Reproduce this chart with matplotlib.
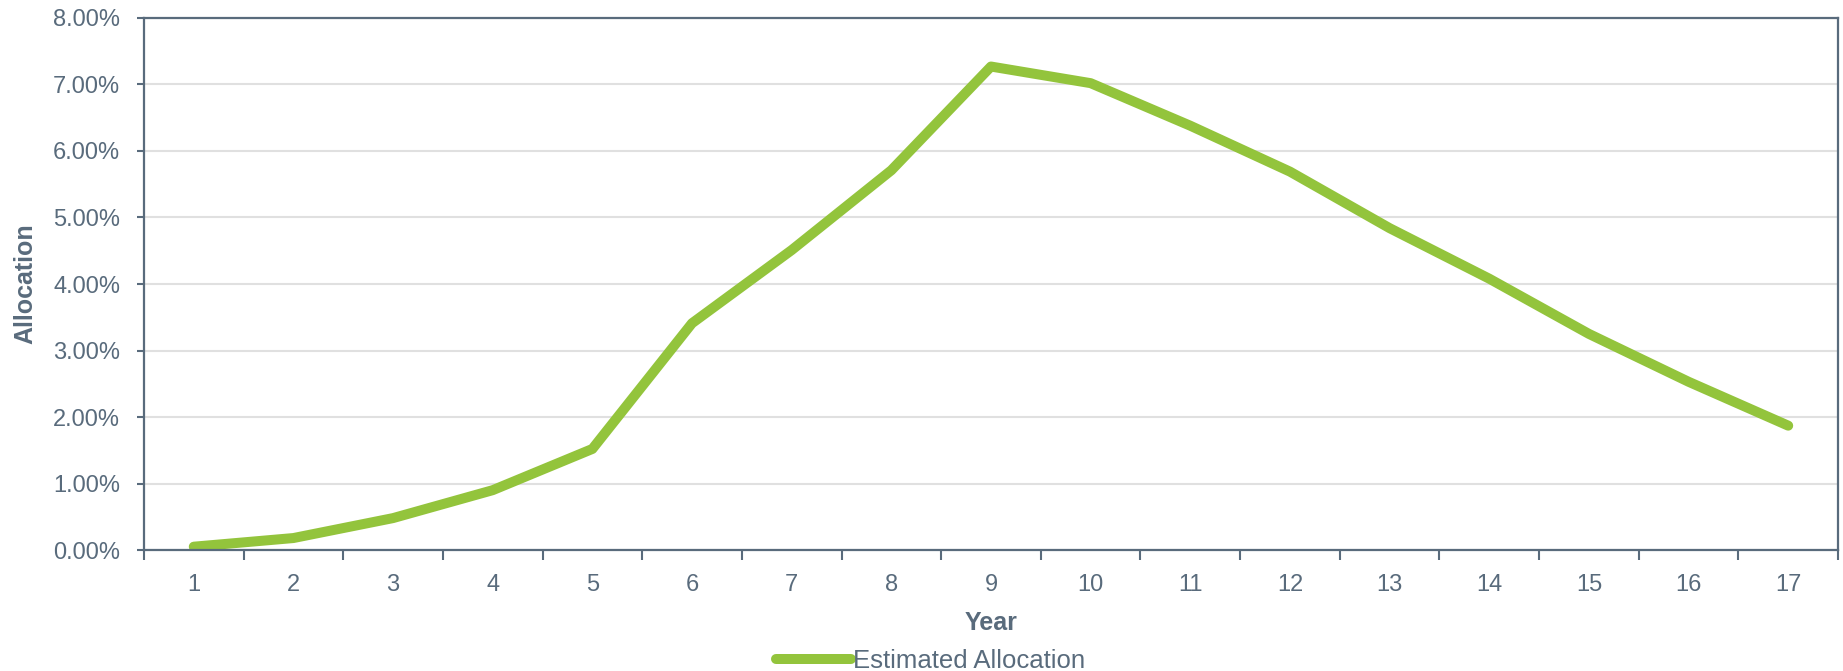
import matplotlib.pyplot as plt
from matplotlib.ticker import FuncFormatter, FixedLocator

# Data
years = list(range(1, 18))
allocation = [0.05, 0.18, 0.48, 0.90, 1.52, 3.41, 4.51, 5.71, 7.27,
              7.02, 6.38, 5.69, 4.84, 4.08, 3.25, 2.53, 1.87]

text_color = '#596b7c'
line_color = '#93c43c'

plt.rcParams['font.family'] = ['Liberation Sans', 'DejaVu Sans']

fig = plt.figure(figsize=(18.43, 6.71), dpi=100)
ax = fig.add_axes([0.0781, 0.1803, 0.9192, 0.7929])

ax.plot(years, allocation, color=line_color, linewidth=7.2,
        solid_capstyle='round', solid_joinstyle='round', label='Estimated Allocation')

ax.set_xlim(0.5, 17.5)
ax.set_ylim(0, 8)
ax.set_yticks(range(0, 9))
ax.yaxis.set_major_formatter(FuncFormatter(lambda v, p: f'{v:.2f}%'))
ax.set_xticks(years)
ax.xaxis.set_minor_locator(FixedLocator([y + 0.5 for y in range(0, 18)]))

ax.tick_params(axis='x', which='major', length=0, labelsize=17, colors=text_color, pad=17)
ax.tick_params(axis='x', which='minor', length=7, width=1.5, color=text_color, direction='out')
ax.tick_params(axis='y', length=5, width=1.5, labelsize=17, colors=text_color, pad=12)

ax.grid(axis='y', color='#e0e0e0', linewidth=1.5)
ax.set_axisbelow(True)
for s in ax.spines.values():
    s.set_color(text_color)
    s.set_linewidth(1.6)

ax.set_xlabel('Year', fontsize=18, fontweight='bold', color=text_color, labelpad=11)
ax.set_ylabel('Allocation', fontsize=18, fontweight='bold', color=text_color)
ax.yaxis.set_label_coords(-0.063, 0.5)

fig.legend(loc='lower center', bbox_to_anchor=(0.505, -0.037), frameon=False,
           fontsize=18.5, labelcolor=text_color, handlelength=2.9, handletextpad=0.1)

fig.savefig('out.png', dpi=100)
